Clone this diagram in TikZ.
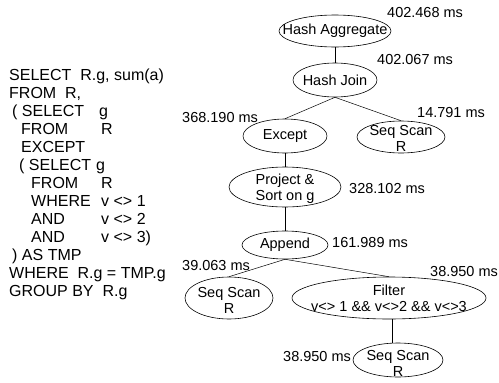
\documentclass[tikz,border=0pt]{standalone}
\usepackage{fontspec}
\setmainfont{Liberation Sans}
\usetikzlibrary{shapes.geometric}

\newcommand{\planfont}{\fontsize{14.5}{16}\selectfont}
\newcommand{\sqlfont}{\fontsize{16}{18}\selectfont}

\tikzset{
    op/.style={ellipse, draw=black, inner sep=0pt, line width=0.6pt},
    cost/.style={anchor=west, inner sep=0pt, font=\planfont},
    sql/.style={anchor=base west, inner sep=0pt, font=\sqlfont},
    every label/.style={font=\planfont, align=center, inner sep=0pt},
    link/.style={draw=black, line width=0.5pt}
}

\begin{document}
\begin{tikzpicture}[x=1pt, y=-1pt]
    \useasboundingbox (0,0) rectangle (499,383);

    % query text
    \node[sql] (q1) at (9,80) {SELECT\ \ R.g, sum(a)};
    \node[sql] (q2) at (9,98) {FROM\ \ R,};
    \node[sql] (q3) at (12,116) {\makebox[87pt][l]{( SELECT}g};
    \node[sql] (q4) at (21,134) {\makebox[80pt][l]{FROM}R};
    \node[sql] (q5) at (21,152) {EXCEPT};
    \node[sql] (q6) at (19,170) {\makebox[77pt][l]{( SELECT}g};
    \node[sql] (q7) at (31,188) {\makebox[70pt][l]{FROM}R};
    \node[sql] (q8) at (31,206) {\makebox[70pt][l]{WHERE}v <> 1};
    \node[sql] (q9) at (31,224) {\makebox[70pt][l]{AND}v <> 2};
    \node[sql] (q10) at (31,242) {\makebox[70pt][l]{AND}v <> 3)};
    \node[sql] (q11) at (12,260) {) AS TMP};
    \node[sql] (q12) at (9,278) {WHERE\ \ R.g = TMP.g};
    \node[sql] (q13) at (9,296) {GROUP BY\ \ R.g};

    % plan operators
    \node[
        op,
        minimum width=112pt,
        minimum height=32pt,
        label=center:Hash Aggregate]
        (agg) at (335,31) {};
    \node[
        op,
        minimum width=84pt,
        minimum height=34pt,
        label=center:Hash Join]
        (join) at (335,80) {};
    \node[
        op,
        minimum width=84pt,
        minimum height=34pt,
        label=center:Except]
        (except) at (285,136) {};
    \node[
        op,
        minimum width=88pt,
        minimum height=32pt,
        label={[yshift=-1pt]center:{Seq Scan\\R}}]
        (scanR) at (401,137) {};
    \node[
        op,
        minimum width=112pt,
        minimum height=40pt,
        label={[yshift=-2pt]center:{Project \&\\Sort on g}}]
        (proj) at (285,187) {};
    \node[
        op,
        minimum width=86pt,
        minimum height=28pt,
        label=center:Append]
        (append) at (285,245) {};
    \node[
        op,
        minimum width=88pt,
        minimum height=42pt,
        label={[yshift=-2pt]center:{Seq Scan\\R}}]
        (scanA) at (229,298) {};
    \node[
        op,
        minimum width=194pt,
        minimum height=42pt,
        label={center:{Filter\\v<> 1 \&\& v<>2 \&\& v<>3}}]
        (filter) at (389,298) {};
    \node[
        op,
        minimum width=90pt,
        minimum height=34pt,
        label={[yshift=-3pt]center:{Seq Scan\\R}}]
        (scanB) at (398,360) {};

    % times
    \node[cost] (tagg) at (387,13) {402.468 ms};
    \node[cost] (tjoin) at (377,60) {402.067 ms};
    \node[cost] (texcept) at (182,118) {368.190 ms};
    \node[cost] (tscanR) at (417,113) {14.791 ms};
    \node[cost] (tproj) at (349,189) {328.102 ms};
    \node[cost] (tappend) at (332,243) {161.989 ms};
    \node[cost] (tscanA) at (182,266) {39.063 ms};
    \node[cost] (tfilter) at (430,272) {38.950 ms};
    \node[cost] (tscanB) at (283,357) {38.950 ms};

    % edges
    \draw[link] (agg.south) -- (join.north);
    \draw[link] (join.south) -- (except.north);
    \draw[link] (join.south) -- (scanR.north);
    \draw[link] (except.south) -- (proj.north);
    \draw[link] (proj.south) -- (append.north);
    \draw[link] (append.south) -- (scanA.north);
    \draw[link] (append.south) -- (filter.north);
    \draw[link] ([xshift=3pt]filter.south) -- ([xshift=3pt]filter.south |- scanB.north);
\end{tikzpicture}
\end{document}
